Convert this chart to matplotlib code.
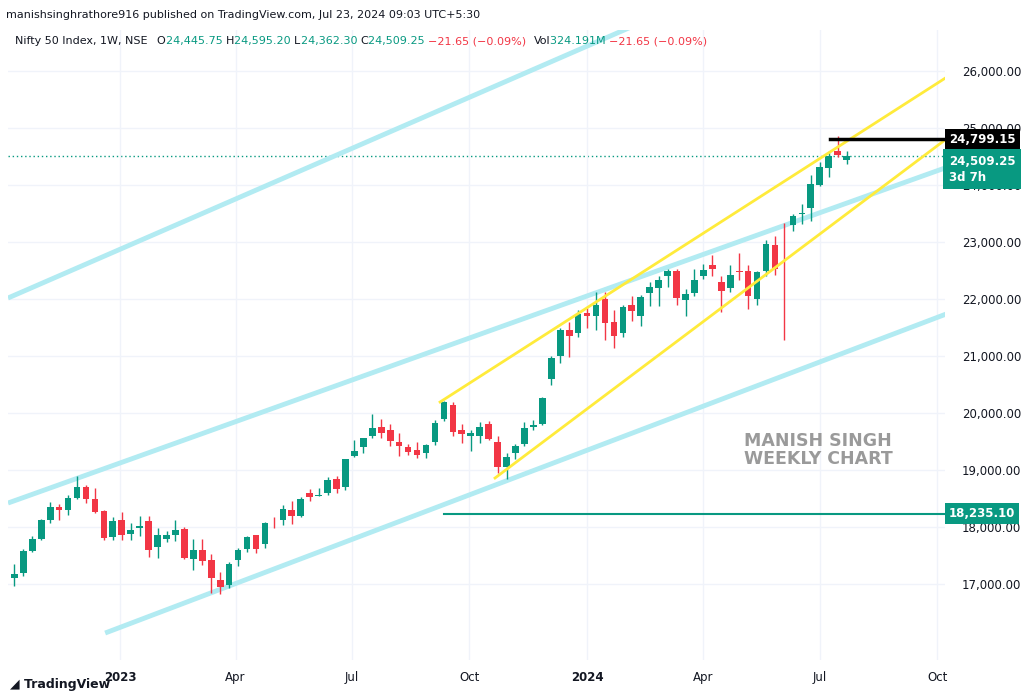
import numpy as np
import pandas as pd
import matplotlib
matplotlib.use("Agg")
import matplotlib.pyplot as plt
import matplotlib.dates as mdates

# weekly candles, Nifty 50
weeks = pd.date_range("2022-10-10", "2024-07-22", freq="W-MON")
opens = [17100, 17200, 17576, 17800, 18117, 18350, 18300, 18512, 18700, 18500, 18290, 17830,
         18131, 17880, 17990, 18100, 17650, 17800, 17870, 17960, 17440, 17600, 17420, 17070,
         16980, 17430, 17620, 17860, 17700, 18080, 18120, 18300, 18200, 18600, 18550, 18600,
         18850, 18700, 19250, 19400, 19600, 19750, 19700, 19500, 19400, 19350, 19300, 19500,
         19900, 20150, 19700, 19600, 19600, 19800, 19500, 19050, 19300, 19450, 19750, 19800,
         20600, 21000, 21450, 21400, 21750, 21700, 22000, 21600, 21400, 21900, 21700, 22100,
         22200, 22400, 22500, 21990, 22100, 22400, 22600, 22300, 22200, 22500, 22500, 22000,
         22500, 22950, 23300, 23300, 23500, 23600, 24000, 24300, 24600, 24446]
closes = [17186, 17576, 17787, 18117, 18350, 18307, 18512, 18696, 18497, 18269, 17807, 18105,
          17860, 17956, 18027, 17604, 17854, 17856, 17944, 17465, 17594, 17413, 17100, 16945,
          17359, 17600, 17828, 17624, 18065, 18069, 18315, 18203, 18499, 18534, 18563, 18826,
          18665, 19189, 19331, 19564, 19745, 19646, 19517, 19428, 19310, 19265, 19435, 19820,
          20192, 19674, 19638, 19653, 19751, 19542, 19047, 19230, 19425, 19732, 19795, 20268,
          20969, 21457, 21349, 21731, 21711, 21895, 21572, 21353, 21854, 21783, 22041, 22213,
          22339, 22494, 22023, 22097, 22327, 22514, 22519, 22147, 22420, 22476, 22055, 22466,
          22957, 22531, 23290, 23465, 23501, 24011, 24324, 24502, 24531, 24509]
highs = [17350, 17620, 17840, 18140, 18440, 18400, 18560, 18890, 18730, 18680, 18300, 18180,
         18270, 18080, 18200, 18200, 17980, 17930, 18130, 18000, 17800, 17800, 17520, 17220,
         17380, 17640, 17850, 17860, 18090, 18180, 18390, 18460, 18530, 18670, 18680, 18880,
         18890, 19200, 19520, 19570, 19990, 19890, 19800, 19650, 19460, 19500, 19460, 19870,
         20220, 20200, 19800, 19700, 19850, 19860, 19600, 19300, 19450, 19850, 19880, 20290,
         21000, 21500, 21600, 21800, 21840, 22120, 22130, 21800, 21900, 22050, 22070, 22300,
         22410, 22530, 22530, 22180, 22520, 22620, 22780, 22400, 22600, 22800, 22600, 22500,
         23030, 23110, 23340, 23500, 23670, 24180, 24400, 24600, 24860, 24595]
lows = [16960, 17150, 17560, 17780, 18080, 18130, 18210, 18490, 18420, 18250, 17780, 17780,
        17780, 17770, 17850, 17480, 17450, 17740, 17760, 17440, 17250, 17330, 16850, 16830,
        16940, 17310, 17570, 17550, 17640, 17980, 18040, 18060, 18180, 18460, 18540, 18560,
        18600, 18650, 19230, 19300, 19560, 19560, 19420, 19250, 19260, 19220, 19220, 19440,
        19860, 19600, 19480, 19330, 19480, 19520, 18950, 18840, 19200, 19420, 19700, 19790,
        20500, 20870, 20980, 21330, 21500, 21450, 21290, 21140, 21330, 21610, 21530, 21870,
        21880, 22220, 21900, 21710, 22050, 22360, 22400, 21780, 22120, 22340, 21820, 21900,
        22400, 22420, 21280, 23200, 23320, 23370, 23990, 24140, 24500, 24362]

# drawings (date, price)
cyan_lines = [(("2022-10-05", 22018), ("2024-02-08", 26807)),
              (("2022-10-05", 18422), ("2024-10-07", 24299)),
              (("2022-12-20", 16142), ("2024-10-10", 21755))]
yellow_lines = [(("2023-09-08", 20194), ("2024-11-02", 26246)),
                (("2023-10-21", 18861), ("2024-10-07", 24790))]
high_level = 24799.15
support_level = 18235.10
last_price = 24509.25
yticks = list(range(17000, 26001, 1000))

green, red = "#089981", "#f23645"

fig = plt.figure(figsize=(10.32, 6.97), dpi=100)
ax = fig.add_axes([8 / 1032, 37 / 697, 937 / 1032, 630 / 697])

x = mdates.date2num(weeks)
w = 5.2
for xi, o, h, l, c in zip(x, opens, highs, lows, closes):
    col = green if c >= o else red
    ax.vlines(xi, l, h, color=col, lw=1, zorder=3)
    ax.bar(xi, max(abs(c - o), 8), bottom=min(o, c), width=w, color=col, zorder=3)

def seg(p, q, **kw):
    ax.plot([mdates.datestr2num(p[0]), mdates.datestr2num(q[0])], [p[1], q[1]], **kw)

for p, q in cyan_lines:
    seg(p, q, color="#b2ebf2", lw=3.5, solid_capstyle="butt", zorder=2)
for p, q in yellow_lines:
    seg(p, q, color="#ffeb3b", lw=2, zorder=4)

ax.plot([mdates.datestr2num("2024-07-09"), mdates.datestr2num("2024-12-31")],
        [high_level] * 2, color="black", lw=2.5, zorder=5)
ax.plot([mdates.datestr2num("2023-09-11"), mdates.datestr2num("2024-12-31")],
        [support_level] * 2, color=green, lw=1.5, zorder=5)
ax.axhline(last_price, color=green, lw=1, ls=(0, (1, 2)), zorder=1)

x0, x1 = mdates.datestr2num("2022-10-05"), mdates.datestr2num("2024-10-07")
ax.set_xlim(x0, x1)
ax.set_ylim(15669, 26719)

ax.set_yticks(yticks)
ax.yaxis.tick_right()
ax.set_yticklabels([f"{v:,.2f}" for v in yticks], fontsize=8.5, color="#131722")
ax.tick_params(axis="y", length=0, pad=12)
xt = ["2023-01-01", "2023-04-01", "2023-07-01", "2023-10-01", "2024-01-01",
      "2024-04-01", "2024-07-01", "2024-10-01"]
xl = ["2023", "Apr", "Jul", "Oct", "2024", "Apr", "Jul", "Oct"]
ax.set_xticks([mdates.datestr2num(d) for d in xt])
ax.set_xticklabels(xl, fontsize=8.5, color="#131722")
for t in ax.get_xticklabels():
    if t.get_text() in ("2023", "2024"):
        t.set_fontweight("bold")
ax.tick_params(axis="x", length=0, pad=8)
ax.grid(color="#f0f3fa", lw=1)
for s in ax.spines.values():
    s.set_visible(False)

# price labels on the right axis
for val, fc, lab in [(high_level, "black", "24,799.15"),
                     (support_level, green, "18,235.10")]:
    ax.text(1.004, val, lab, transform=ax.get_yaxis_transform(), fontsize=8.5,
            color="white", fontweight="bold", va="center", ha="left", zorder=10,
            bbox=dict(boxstyle="square,pad=0.35", fc=fc, ec="none"))
ax.text(1.004, last_price - 230, "24,509.25\n3d 7h", transform=ax.get_yaxis_transform(),
        fontsize=8.5, color="white", fontweight="bold", va="center", ha="left", zorder=10,
        linespacing=1.3, bbox=dict(boxstyle="square,pad=0.45", fc=green, ec="none"))

ax.text(mdates.datestr2num("2024-05-03"), 19350, "MANISH SINGH\nWEEKLY CHART",
        fontsize=12.5, color="#9a9a9a", fontweight="bold", va="center", ha="left",
        linespacing=1.0)

fig.text(0.006, 0.985, "manishsinghrathore916 published on TradingView.com, Jul 23, 2024 09:03 UTC+5:30",
         fontsize=8, color="#131722", va="top")
fig.text(0.015, 0.948, "Nifty 50 Index, 1W, NSE", fontsize=8, color="#131722", va="top")
parts = [("O", "#131722"), ("24,445.75 ", green), ("H", "#131722"), ("24,595.20 ", green),
         ("L", "#131722"), ("24,362.30 ", green), ("C", "#131722"), ("24,509.25 ", green),
         ("−21.65 (−0.09%)  ", red), ("Vol", "#131722"), ("324.191M ", green),
         ("−21.65 (−0.09%)", red)]
xpos = 0.152
r = fig.canvas.get_renderer()
for s, c in parts:
    t = fig.text(xpos, 0.948, s, fontsize=8, color=c, va="top")
    xpos += t.get_window_extent(r).width / fig.bbox.width
fig.text(0.01, 0.013, "◢ TradingView", fontsize=9, color="#131722", fontweight="bold")

fig.savefig("out.png", dpi=100)
